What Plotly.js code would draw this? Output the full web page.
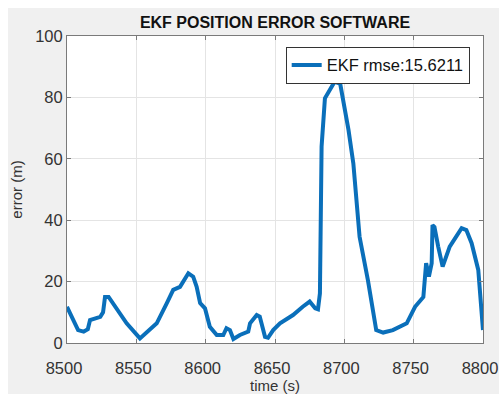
<!DOCTYPE html>
<html>
<head>
<meta charset="utf-8">
<script src="https://cdn.plot.ly/plotly-3.0.1.min.js"></script>
<style>
html,body{margin:0;padding:0;background:#ffffff;width:499px;height:394px;overflow:hidden;}
#chart{position:absolute;left:8px;top:8px;width:500px;height:386px;}
</style>
</head>
<body>
<div id="chart"></div>
<script>
const timeS = [8500, 8503.4, 8508, 8512, 8515, 8516.6, 8520, 8524, 8526, 8527.4, 8530, 8533, 8543, 8552.6, 8557, 8564.7, 8572, 8576.6, 8581.5, 8587.5, 8591, 8593.5, 8596, 8599.5, 8603, 8608, 8612.7, 8615, 8617.5, 8620, 8624.7, 8630.7, 8632, 8636.8, 8639, 8642.8, 8645, 8648.7, 8653.6, 8663, 8670, 8675, 8679, 8681, 8682.4, 8682.9, 8683.6, 8686, 8693, 8697, 8703, 8706.5, 8711, 8717, 8723, 8728, 8735, 8745, 8751, 8757, 8759, 8761, 8763, 8763.6, 8765, 8767.7, 8770.9, 8776, 8784.6, 8788, 8791.8, 8796.6, 8799, 8800];
const errorM = [11.8, 8.6, 4.2, 3.7, 4.5, 7.5, 8, 8.5, 10, 15, 15, 13, 6.4, 1.5, 3.2, 6.4, 13, 17.3, 18.3, 22.7, 21.6, 18.3, 13, 11.3, 5.3, 2.6, 2.6, 4.8, 4.2, 1.3, 2.6, 3.7, 6.4, 9.1, 8.6, 2, 1.7, 4.2, 6.4, 9.1, 11.8, 13.5, 11.3, 11, 16.2, 58.5, 64, 79.7, 85.1, 84.5, 69.4, 58.5, 34.6, 20.5, 4.2, 3.4, 4.2, 6.4, 11.8, 15, 26, 21.6, 26, 38.4, 37.8, 31.4, 24.9, 31.4, 37.4, 36.8, 32.5, 23.8, 7.5, 4.2];
const seriesName = 'EKF rmse:15.6211';
const xTicks = [8500, 8550, 8600, 8650, 8700, 8750, 8800];
const yTicks = [0, 20, 40, 60, 80, 100];

const fontFam = '"Liberation Sans", Arial, Helvetica, sans-serif';
const axisCommon = {
  showline: true, linecolor: '#7a7a7a', linewidth: 1, mirror: 'ticks',
  ticks: 'inside', ticklen: 4, tickcolor: '#7a7a7a',
  showgrid: true, gridcolor: '#e4e4e4', gridwidth: 1,
  zeroline: false,
  tickfont: {family: fontFam, size: 16.5, color: '#333333'}
};

const data = [{
  x: timeS, y: errorM, type: 'scatter', mode: 'lines', name: seriesName,
  line: {color: '#0a6fba', width: 4}, cliponaxis: true
}];

const layout = {
  width: 500, height: 386,
  margin: {l: 59, r: 25, t: 28, b: 51},
  paper_bgcolor: '#f0f0f0', plot_bgcolor: '#ffffff',
  font: {family: fontFam, color: '#333333'},
  title: {text: '<b>EKF POSITION ERROR SOFTWARE</b>', font: {family: fontFam, size: 16, color: '#111111'},
          x: 0.5, xref: 'paper', xanchor: 'center', y: 0.962, yref: 'container', yanchor: 'middle'},
  xaxis: Object.assign({}, axisCommon, {
    range: [8499.99, 8800.01], tickvals: xTicks, ticktext: xTicks.map(String),
    ticklabelstandoff: 10, ticklabelshift: -3,
    title: {text: 'time (s)', font: {family: fontFam, size: 15, color: '#333333'}, standoff: 3}
  }),
  yaxis: Object.assign({}, axisCommon, {
    range: [0, 100], tickvals: yTicks, ticktext: yTicks.map(String),
    title: {text: 'error (m)', font: {family: fontFam, size: 15, color: '#333333'}, standoff: 8}
  }),
  showlegend: true,
  legend: {x: 0.968, y: 0.965, xanchor: 'right', yanchor: 'top', bgcolor: '#ffffff',
           bordercolor: '#333333', borderwidth: 1, font: {family: fontFam, size: 16.5, color: '#111111'},
           itemwidth: 30}
};

Plotly.newPlot('chart', data, layout, {displayModeBar: false, staticPlot: true});
</script>
</body>
</html>
